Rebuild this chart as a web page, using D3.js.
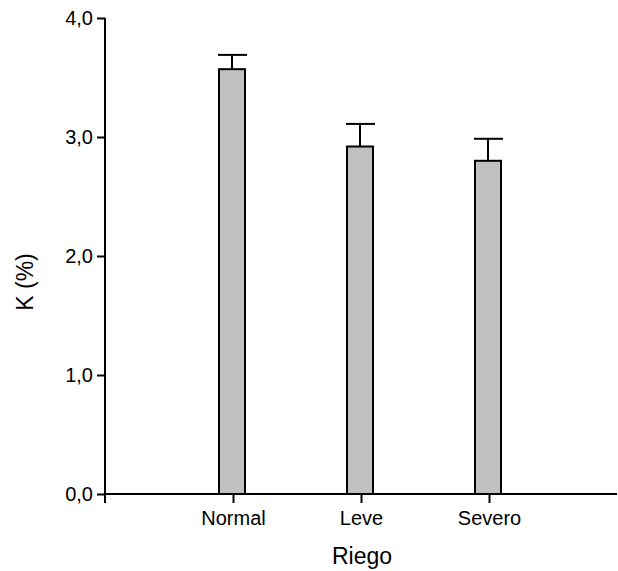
<!DOCTYPE html>
<html>
<head>
<meta charset="utf-8">
<script src="https://cdn.jsdelivr.net/npm/d3@7"></script>
<style>
  body { margin: 0; background: #fff; }
  text { font-family: "Liberation Sans", Arial, sans-serif; fill: #000; }
</style>
</head>
<body>
<svg width="618" height="571"></svg>
<script>
var categories = ["Normal", "Leve", "Severo"];
var means = [3.57, 2.92, 2.80];
var errors = [0.12, 0.19, 0.185];
var yTicks = [0, 1, 2, 3, 4];

var svg = d3.select("svg"),
    mLeft = 105, mRight = 617, mTop = 18, mBottom = 494;

var x = d3.scalePoint()
    .domain(categories)
    .range([mLeft, mRight])
    .padding(1);

var y = d3.scaleLinear()
    .domain([0, 4])
    .range([mBottom, mTop]);

var fmt = function(d) { return d3.format(".1f")(d).replace(".", ","); };
var barW = 26;

// bars
svg.selectAll(".bar")
    .data(categories)
    .enter().append("rect")
    .attr("class", "bar")
    .attr("x", function(d) { return x(d) - barW / 2 - 1; })
    .attr("y", function(d, i) { return y(means[i]); })
    .attr("width", barW)
    .attr("height", function(d, i) { return y(0) - y(means[i]); })
    .style("fill", "#c0c0c0")
    .style("stroke", "#000")
    .style("stroke-width", "2px");

// error bars
var err = svg.selectAll(".err")
    .data(categories)
    .enter().append("g")
    .attr("class", "err");

err.append("line")
    .attr("x1", function(d) { return x(d) - 1; })
    .attr("x2", function(d) { return x(d) - 1; })
    .attr("y1", function(d, i) { return y(means[i]); })
    .attr("y2", function(d, i) { return y(means[i] + errors[i]); })
    .style("stroke", "#000").style("stroke-width", "2px");

err.append("line")
    .attr("x1", function(d) { return x(d) - 15; })
    .attr("x2", function(d) { return x(d) + 14; })
    .attr("y1", function(d, i) { return y(means[i] + errors[i]); })
    .attr("y2", function(d, i) { return y(means[i] + errors[i]); })
    .style("stroke", "#000").style("stroke-width", "2px");

// y axis
var yAxis = svg.append("g")
    .attr("transform", "translate(" + mLeft + ",0)")
    .call(d3.axisLeft(y).tickValues(yTicks).tickFormat(fmt).tickSize(8).tickPadding(4));

// x axis
var xAxis = svg.append("g")
    .attr("transform", "translate(0," + mBottom + ")")
    .call(d3.axisBottom(x).tickSize(9).tickPadding(8));

// y axis runs a little below the x axis
svg.append("line")
    .attr("x1", mLeft).attr("x2", mLeft)
    .attr("y1", mBottom).attr("y2", mBottom + 9)
    .style("stroke", "#000").style("stroke-width", "2px");

svg.selectAll(".domain, .tick line")
    .style("stroke", "#000")
    .style("stroke-width", "2px");
xAxis.select(".domain").attr("d", "M" + mLeft + ",0H" + mRight);
yAxis.select(".domain").attr("d", "M0," + mTop + "V" + mBottom);

svg.selectAll(".tick text")
    .style("font-family", "'Liberation Sans', Arial, sans-serif")
    .style("font-size", "20px")
    .style("fill", "#000");

// titles
svg.append("text")
    .attr("x", 362)
    .attr("y", 564)
    .attr("text-anchor", "middle")
    .style("font-size", "23px")
    .text("Riego");

svg.append("text")
    .attr("transform", "translate(33,282) rotate(-90)")
    .attr("text-anchor", "middle")
    .style("font-size", "23px")
    .text("K (%)");
</script>
</body>
</html>
